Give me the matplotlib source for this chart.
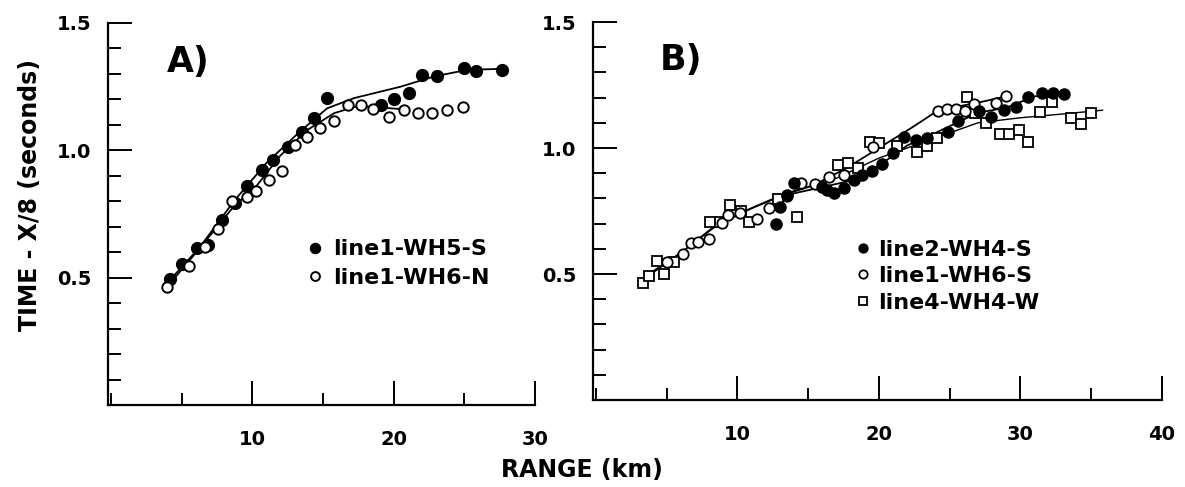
import numpy as np
import matplotlib
matplotlib.use("Agg")
import matplotlib.pyplot as plt
from matplotlib.ticker import MultipleLocator

plt.rcParams['font.family'] = ['DejaVu Sans']
plt.rcParams['font.weight'] = 'bold'

# ---- panel A data (range km, time - x/8 s)
a_fill_x = [4.2, 5.0, 6.1, 6.9, 7.85, 8.8, 9.6, 10.7, 11.5, 12.5, 13.5, 14.35, 15.3,
            19.1, 20.0, 21.1, 22.0, 23.05, 25.0, 25.8, 27.7]
a_fill_y = [0.493, 0.552, 0.615, 0.63, 0.728, 0.795, 0.858, 0.924, 0.963, 1.014, 1.073,
            1.128, 1.206, 1.179, 1.202, 1.226, 1.296, 1.292, 1.324, 1.312, 1.316]
a_open_x = [3.95, 5.5, 6.67, 7.6, 8.55, 9.6, 10.3, 11.2, 12.1, 13.05, 13.9, 14.8, 15.8,
            16.8, 17.7, 18.55, 19.7, 20.7, 21.7, 22.75, 23.8, 24.9]
a_open_y = [0.462, 0.544, 0.62, 0.69, 0.80, 0.818, 0.842, 0.885, 0.917, 1.022, 1.054,
            1.089, 1.116, 1.179, 1.179, 1.163, 1.132, 1.159, 1.147, 1.147, 1.159, 1.171]
# hand-drawn fit curves
a_fit1_x = [4.0, 6.3, 8.7, 11.0, 13.3, 15.3, 17.2, 20.5, 22.85, 25.2, 27.6]
a_fit1_y = [0.48, 0.62, 0.80, 0.95, 1.07, 1.165, 1.205, 1.25, 1.29, 1.316, 1.32]
a_fit2_x = [4.0, 6.2, 8.7, 10.3, 12.0, 13.9, 15.8, 17.2, 18.6, 19.8, 21.0]
a_fit2_y = [0.465, 0.61, 0.78, 0.86, 0.98, 1.08, 1.146, 1.17, 1.172, 1.165, 1.16]

# ---- panel B data
b_fill_x = [12.7, 13.0, 13.5, 14.0, 16.0, 16.3, 16.85, 17.55, 18.25, 18.8, 19.5, 20.2,
            21.0, 21.75, 22.6, 23.4, 24.9, 25.6, 27.1, 27.9, 28.85, 29.7, 30.5, 31.5,
            32.3, 33.05]
b_fill_y = [0.697, 0.764, 0.812, 0.862, 0.846, 0.833, 0.823, 0.84, 0.873, 0.891, 0.91,
            0.937, 0.979, 1.045, 1.032, 1.04, 1.062, 1.106, 1.148, 1.124, 1.151, 1.163,
            1.202, 1.217, 1.217, 1.214]
b_open_x = [5.0, 6.13, 6.7, 7.2, 8.0, 8.9, 9.35, 10.2, 11.4, 12.2, 13.5, 14.5, 15.45,
            16.5, 17.55, 19.6, 24.15, 24.8, 25.45, 26.05, 26.7, 28.3, 29.0]
b_open_y = [0.549, 0.579, 0.624, 0.628, 0.638, 0.704, 0.734, 0.743, 0.717, 0.761, 0.81,
            0.86, 0.858, 0.885, 0.893, 1.003, 1.146, 1.154, 1.156, 1.148, 1.176, 1.179,
            1.208]
b_sq_x = [3.33, 3.75, 4.3, 4.85, 5.55, 8.1, 8.8, 9.5, 10.25, 10.8, 12.9, 14.2, 17.1,
          17.8, 18.5, 19.4, 20.0, 21.3, 22.7, 23.4, 24.1, 26.25, 26.8, 27.6, 28.55,
          29.2, 29.9, 30.5, 31.4, 32.2, 33.6, 34.3, 35.0]
b_sq_y = [0.465, 0.491, 0.553, 0.50, 0.549, 0.706, 0.708, 0.774, 0.749, 0.706, 0.798,
          0.726, 0.933, 0.942, 0.92, 1.022, 1.019, 1.008, 0.983, 1.006, 1.038, 1.204,
          1.138, 1.101, 1.056, 1.056, 1.07, 1.023, 1.144, 1.184, 1.118, 1.095, 1.138]
b_fit_open_x = [3.1, 6.0, 8.35, 10.7, 13.0, 15.3, 17.7, 20.0, 22.3, 24.2, 27.0, 29.0]
b_fit_open_y = [0.476, 0.583, 0.688, 0.754, 0.81, 0.85, 0.92, 1.0, 1.08, 1.15, 1.18, 1.205]
b_fit_fill_x = [12.7, 14.0, 16.0, 18.0, 20.0, 22.0, 24.0, 25.5, 27.0, 29.0, 31.0, 33.0]
b_fit_fill_y = [0.77, 0.82, 0.845, 0.87, 0.93, 1.01, 1.06, 1.10, 1.14, 1.16, 1.205, 1.215]
b_fit_sq_x = [3.2, 6.0, 8.5, 11.0, 14.0, 17.0, 20.0, 22.5, 25.0, 27.0, 30.0, 33.0, 35.8]
b_fit_sq_y = [0.47, 0.585, 0.69, 0.76, 0.83, 0.88, 0.96, 1.01, 1.06, 1.10, 1.12, 1.135, 1.15]

W, H = 1185, 487
fig = plt.figure(figsize=(W / 100, H / 100), dpi=100)
axA = fig.add_axes([108 / W, 1 - 405 / H, (535 - 108) / W, (405 - 23) / H])
axB = fig.add_axes([593 / W, 1 - 400 / H, (1162 - 593) / W, (400 - 22) / H])


def style(ax, xmax, xticks):
    ax.set_ylim(0, 1.5)
    ax.set_xlim(-0.2, xmax)
    for s in ['top', 'right']:
        ax.spines[s].set_visible(False)
    for s in ['left', 'bottom']:
        ax.spines[s].set_linewidth(1.6)
    ax.set_yticks([0.5, 1.0, 1.5])
    ax.set_yticklabels(['0.5', '1.0', '1.5'])
    ax.yaxis.set_minor_locator(MultipleLocator(0.1))
    ax.set_xticks(xticks)
    ax.set_xticklabels([str(t) for t in xticks])
    ax.xaxis.set_minor_locator(MultipleLocator(5))
    ax.tick_params(which='major', direction='in', length=17, width=1.4,
                   labelsize=14)
    ax.tick_params(which='minor', direction='in', length=9, width=1.4)
    ax.tick_params(axis='x', which='major', pad=18)
    ax.tick_params(axis='y', which='major', pad=12)


style(axA, 30, [10, 20, 30])
style(axB, 39.8, [10, 20, 30, 40])

leg_font = {'size': 16, 'weight': 'bold'}

# panel A
axA.plot(a_fit1_x, a_fit1_y, color='black', lw=1.3)
axA.plot(a_fit2_x, a_fit2_y, color='black', lw=1.3)
axA.plot(a_fill_x, a_fill_y, 'o', color='black', ms=8.5, label='line1-WH5-S')
axA.plot(a_open_x, a_open_y, 'o', mfc='white', mec='black', mew=1.4, ms=7.5,
         label='line1-WH6-N')
axA.text(0.138, 0.872, 'A)', transform=axA.transAxes, fontsize=25,
         fontweight='bold', va='baseline')
axA.legend(loc='upper left', bbox_to_anchor=(0.45, 0.457), frameon=False,
           handlelength=0.5, handletextpad=0.6, labelspacing=0.38,
           prop=leg_font, markerscale=0.85, borderaxespad=0)

# panel B
axB.plot(b_fit_open_x, b_fit_open_y, color='black', lw=1.3)
axB.plot(b_fit_fill_x, b_fit_fill_y, color='black', lw=1.3)
axB.plot(b_fit_sq_x, b_fit_sq_y, color='black', lw=1.0)
axB.plot(b_sq_x, b_sq_y, 's', mfc='white', mec='black', mew=1.3, ms=7.5,
         label='line4-WH4-W')
axB.plot(b_open_x, b_open_y, 'o', mfc='white', mec='black', mew=1.3, ms=7.5,
         label='line1-WH6-S')
axB.plot(b_fill_x, b_fill_y, 'o', color='black', ms=8, label='line2-WH4-S')
axB.text(0.118, 0.873, 'B)', transform=axB.transAxes, fontsize=25,
         fontweight='bold', va='baseline')
hB, lB = axB.get_legend_handles_labels()
axB.legend(hB[::-1], lB[::-1], loc='upper left', bbox_to_anchor=(0.45, 0.448),
           frameon=False, handlelength=0.5, handletextpad=0.4, labelspacing=0.3,
           prop=leg_font, markerscale=0.8, borderaxespad=0)

fig.text(30 / W, 1 - 195 / H, 'TIME - X/8 (seconds)', rotation=90, ha='center',
         va='center', fontsize=17, fontweight='bold')
fig.text(582 / W, 1 - 470 / H, 'RANGE (km)', ha='center', va='center',
         fontsize=17, fontweight='bold')

fig.savefig('out.png', dpi=100)
